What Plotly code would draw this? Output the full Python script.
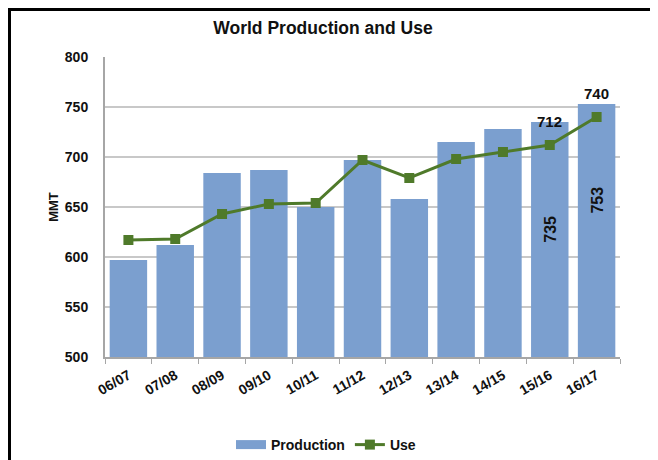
import plotly.graph_objects as go

categories = ["06/07", "07/08", "08/09", "09/10", "10/11", "11/12", "12/13", "13/14", "14/15", "15/16", "16/17"]
production = [597, 612, 684, 687, 650, 697, 658, 715, 728, 735, 753]
use = [617, 618, 643, 653, 654, 697, 679, 698, 705, 712, 740]

W, H = 658, 460
OFF = 8  # page body margin offsets the figure
# plot area in page pixels: left 105, right 620, top 57, bottom 357
ML = 105 - OFF
MT = 57 - OFF
MR = W - (620 - OFF)
MB = H - (357 - OFF)
PW, PH = W - ML - MR, H - MT - MB

BAR_COLOR = "#7b9fcf"
LINE_COLOR = "#4f7a2a"
FONT = "Liberation Sans, Arial, sans-serif"
TXT = "#111111"


def pgx(px):
    """page pixel x -> paper x"""
    return (px - OFF - ML) / PW


def pgy(py):
    """page pixel y -> paper y"""
    return (H - MB - (py - OFF)) / PH


fig = go.Figure()
fig.add_trace(go.Bar(
    x=categories, y=production, name="Production",
    marker=dict(color=BAR_COLOR, line=dict(width=0)), showlegend=False,
))
# legend-only entry drawn as a wide swatch
fig.add_trace(go.Scatter(
    x=[None], y=[None], name="<b>Production</b>", mode="lines",
    line=dict(color=BAR_COLOR, width=9), showlegend=True,
))
fig.add_trace(go.Scatter(
    x=categories, y=use, name="<b>Use</b>", mode="lines+markers",
    line=dict(color=LINE_COLOR, width=3),
    marker=dict(symbol="square", size=10, color=LINE_COLOR),
))

# data labels for the last two use points
for i in (9, 10):
    fig.add_annotation(x=categories[i], y=use[i], text="<b>%d</b>" % use[i], showarrow=False,
                       yshift=24, font=dict(family=FONT, size=15, color=TXT))
# rotated labels inside the last two bars
bar_label_y = {9: 628, 10: 657}
for i, yy in bar_label_y.items():
    fig.add_annotation(x=categories[i], y=yy, text="<b>%d</b>" % production[i], showarrow=False,
                       textangle=-90, font=dict(family=FONT, size=16, color=TXT))

# frame lines (left and top edges of the image)
fig.add_shape(type="line", xref="paper", yref="paper",
              x0=pgx(OFF + 1.5), x1=pgx(OFF + 1.5), y0=pgy(OFF), y1=pgy(H + OFF + 5),
              line=dict(color="black", width=3))
fig.add_shape(type="line", xref="paper", yref="paper",
              x0=pgx(OFF), x1=pgx(W + OFF + 5), y0=pgy(OFF + 1.5), y1=pgy(OFF + 1.5),
              line=dict(color="black", width=3))

fig.update_layout(
    width=W, height=H,
    margin=dict(l=ML, r=MR, t=MT, b=MB, autoexpand=False),
    paper_bgcolor="white", plot_bgcolor="white",
    bargap=0.2,
    font=dict(family=FONT, color=TXT),
    title=dict(text="<b>World Production and Use</b>", x=(323 - OFF) / W, xanchor="center", xref="container",
               y=1 - (28 - OFF) / H, yanchor="middle", yref="container",
               font=dict(family=FONT, size=17.5, color=TXT)),
    legend=dict(orientation="h", x=pgx(326), xanchor="center", y=pgy(445), yanchor="middle",
                font=dict(family=FONT, size=14, color=TXT), traceorder="normal",
                itemwidth=30, bgcolor="rgba(0,0,0,0)"),
    showlegend=True,
)
fig.update_xaxes(
    type="category", range=[-0.5, len(categories) - 0.5],
    showline=True, linecolor="#a6a6a6", linewidth=2,
    ticks="outside", ticklen=5, tickcolor="#a6a6a6", tickson="boundaries",
    tickangle=-30, tickfont=dict(family=FONT, size=14, color=TXT),
    ticklabelstandoff=3,
    showgrid=False, automargin=False,
    tickprefix="<b>", ticksuffix="</b>",
)
fig.update_yaxes(
    range=[500, 800], dtick=50, showline=True, linecolor="#a6a6a6", linewidth=2,
    showgrid=True, gridcolor="#c8c8c8", gridwidth=2, zeroline=False,
    ticks="", ticklabelstandoff=12,
    tickfont=dict(family=FONT, size=14, color=TXT),
    tickformat="d", automargin=False,
    tickprefix="<b>", ticksuffix="</b>",
    title=dict(text="<b>MMT</b>", font=dict(family=FONT, size=13, color=TXT), standoff=3),
)

fig.write_html("out.html")
